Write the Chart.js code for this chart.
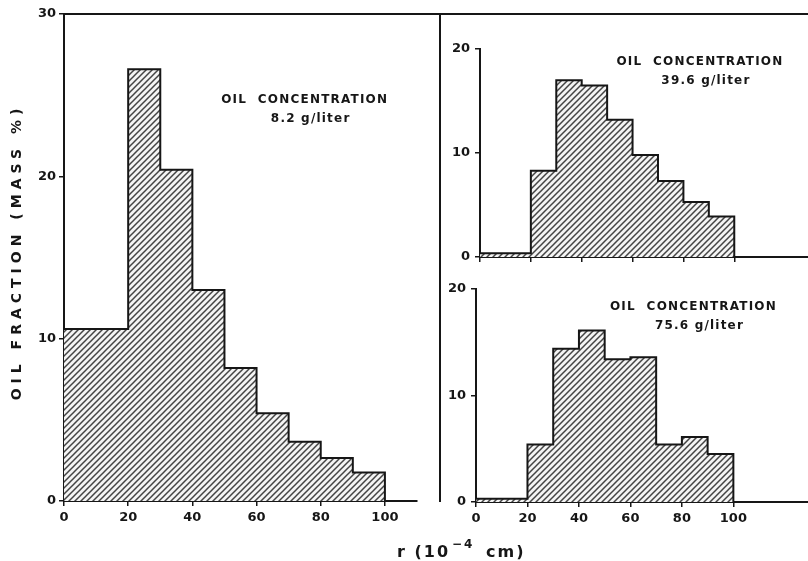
<!DOCTYPE html>
<html>
<head>
<meta charset="utf-8">
<script src="https://cdn.jsdelivr.net/npm/chart.js@4.4.1/dist/chart.umd.min.js"></script>
<style>
  body { margin: 0; background: #fff; }
  #figure { position: relative; width: 808px; height: 561px; background: #fff; }
  #figure canvas { position: absolute; left: 0; top: 0; }
</style>
</head>
<body>
<div id="figure">
  <canvas id="low" width="808" height="561"></canvas>
  <canvas id="mid" width="808" height="561"></canvas>
  <canvas id="high" width="808" height="561"></canvas>
</div>
<script>
// droplet radius bin edges, 10^-4 cm
const binEdges = [0, 20, 30, 40, 50, 60, 70, 80, 90, 100];
// oil fraction in each bin, mass %
const fraction8_2 = [10.6, 26.6, 20.4, 13.0, 8.2, 5.4, 3.65, 2.65, 1.75];
const fraction39_6 = [0.35, 8.3, 17.0, 16.5, 13.2, 9.8, 7.3, 5.3, 3.9];
const fraction75_6 = [0.3, 5.4, 14.4, 16.1, 13.4, 13.6, 5.4, 6.1, 4.5];
// axis ticks
const radiusTicks = [0, 20, 40, 60, 80, 100];
const bigFractionTicks = [0, 10, 20, 30];
const smallFractionTicks = [0, 10, 20];

const ink = '#161616';
const tickFont = { family: 'DejaVu Sans', weight: 'bold', size: 13 };

// histogram outline as a stepped line: each value holds until the next edge
function stepPoints(values) {
  const pts = values.map((v, i) => ({ x: binEdges[i], y: v }));
  const last = binEdges[binEdges.length - 1];
  pts.push({ x: last, y: values[values.length - 1] }, { x: last, y: 0 });
  return pts;
}

function hatch(ctx) {
  const tile = document.createElement('canvas');
  tile.width = 6; tile.height = 6;
  const g = tile.getContext('2d');
  g.fillStyle = '#f4f4f4';
  g.fillRect(0, 0, 6, 6);
  g.strokeStyle = '#444';
  g.lineWidth = 1.5;
  g.beginPath();
  g.moveTo(-1, 7); g.lineTo(7, -1);
  g.moveTo(-1, 1); g.lineTo(1, -1);
  g.moveTo(5, 7); g.lineTo(7, 5);
  g.stroke();
  return ctx.createPattern(tile, 'repeat');
}

// two-line caption placed in data coordinates
const panelNote = {
  id: 'panelNote',
  afterDraw(chart, args, o) {
    if (!o.lines) return;
    const ctx = chart.ctx;
    const cx = chart.scales.x.getPixelForValue(o.at[0]);
    const cy = chart.scales.y.getPixelForValue(o.at[1]);
    ctx.save();
    ctx.fillStyle = ink;
    ctx.font = 'bold 12px "DejaVu Sans"';
    ctx.letterSpacing = '1.2px';
    ctx.textAlign = 'center';
    ctx.textBaseline = 'middle';
    o.lines.forEach((t, i) => ctx.fillText(t, cx + i * 6, cy + i * 19));
    ctx.restore();
  }
};

// frame rules and shared axis titles
const frame = {
  id: 'frame',
  afterDraw(chart) {
    const ctx = chart.ctx;
    const area = chart.chartArea;
    ctx.save();
    ctx.strokeStyle = ink;
    ctx.lineWidth = 2;
    ctx.beginPath();
    ctx.moveTo(area.left, area.top);
    ctx.lineTo(chart.width, area.top);
    ctx.moveTo(440, area.top);
    ctx.lineTo(440, area.bottom + 1);
    ctx.stroke();

    ctx.fillStyle = ink;
    ctx.textBaseline = 'middle';
    ctx.textAlign = 'center';
    ctx.font = 'bold 14px "DejaVu Sans"';
    ctx.letterSpacing = '5px';
    ctx.translate(17, 252);
    ctx.rotate(-Math.PI / 2);
    ctx.fillText('OIL FRACTION (MASS %)', 0, 0);
    ctx.restore();

    ctx.save();
    ctx.fillStyle = ink;
    ctx.textBaseline = 'alphabetic';
    ctx.textAlign = 'left';
    ctx.letterSpacing = '2px';
    const base = 557;
    ctx.font = 'bold 16px "DejaVu Sans"';
    ctx.fillText('r (10', 397, base);
    ctx.font = 'bold 12px "DejaVu Sans"';
    ctx.fillText('\u22124', 452, base - 9);
    ctx.font = 'bold 16px "DejaVu Sans"';
    ctx.fillText('cm)', 486, base);
    ctx.restore();
  }
};

function panel(id, values, o) {
  const ctx = document.getElementById(id).getContext('2d');
  const axisGrid = { drawOnChartArea: false, drawTicks: true, tickLength: 5, color: ink, lineWidth: 1.5 };
  new Chart(ctx, {
    type: 'line',
    data: {
      datasets: [{
        data: stepPoints(values),
        stepped: true,
        fill: 'origin',
        backgroundColor: hatch(ctx),
        borderColor: ink,
        borderWidth: 2,
        pointRadius: 0
      }]
    },
    options: {
      responsive: false,
      animation: false,
      events: [],
      layout: { padding: o.padding },
      plugins: {
        legend: { display: false },
        tooltip: { enabled: false },
        panelNote: { lines: o.note, at: o.noteAt }
      },
      scales: {
        x: {
          type: 'linear',
          min: 0,
          max: o.xMax,
          afterBuildTicks: s => { s.ticks = radiusTicks.map(v => ({ value: v })); },
          afterFit: s => { s.height = o.xHeight; },
          border: { color: ink, width: 2 },
          grid: axisGrid,
          ticks: { display: o.xLabels, color: ink, font: tickFont, padding: 4, maxRotation: 0 }
        },
        y: {
          type: 'linear',
          min: 0,
          max: o.yTicks[o.yTicks.length - 1],
          afterBuildTicks: s => { s.ticks = o.yTicks.map(v => ({ value: v })); },
          afterFit: s => { s.width = o.yWidth; },
          border: { color: ink, width: 2 },
          grid: axisGrid,
          ticks: { color: ink, font: tickFont, padding: o.yPad }
        }
      }
    },
    plugins: o.frame ? [panelNote, frame] : [panelNote]
  });
}

panel('low', fraction8_2, {
  padding: { top: 14, right: 391, bottom: 0, left: 0 },
  xMax: 110, xHeight: 60, xLabels: true,
  yTicks: bigFractionTicks, yWidth: 64, yPad: 3,
  note: ['OIL  CONCENTRATION', '8.2 g/liter'], noteAt: [75, 24.7],
  frame: true
});

panel('mid', fraction39_6, {
  padding: { top: 49, right: 0, bottom: 298, left: 0 },
  xMax: 129, xHeight: 6, xLabels: false,
  yTicks: smallFractionTicks, yWidth: 480, yPad: 5,
  note: ['OIL  CONCENTRATION', '39.6 g/liter'], noteAt: [86.5, 18.75]
});

panel('high', fraction75_6, {
  padding: { top: 289, right: 0, bottom: 0, left: 0 },
  xMax: 129, xHeight: 59, xLabels: true,
  yTicks: smallFractionTicks, yWidth: 476, yPad: 5,
  note: ['OIL  CONCENTRATION', '75.6 g/liter'], noteAt: [84.5, 18.3]
});
</script>
</body>
</html>
